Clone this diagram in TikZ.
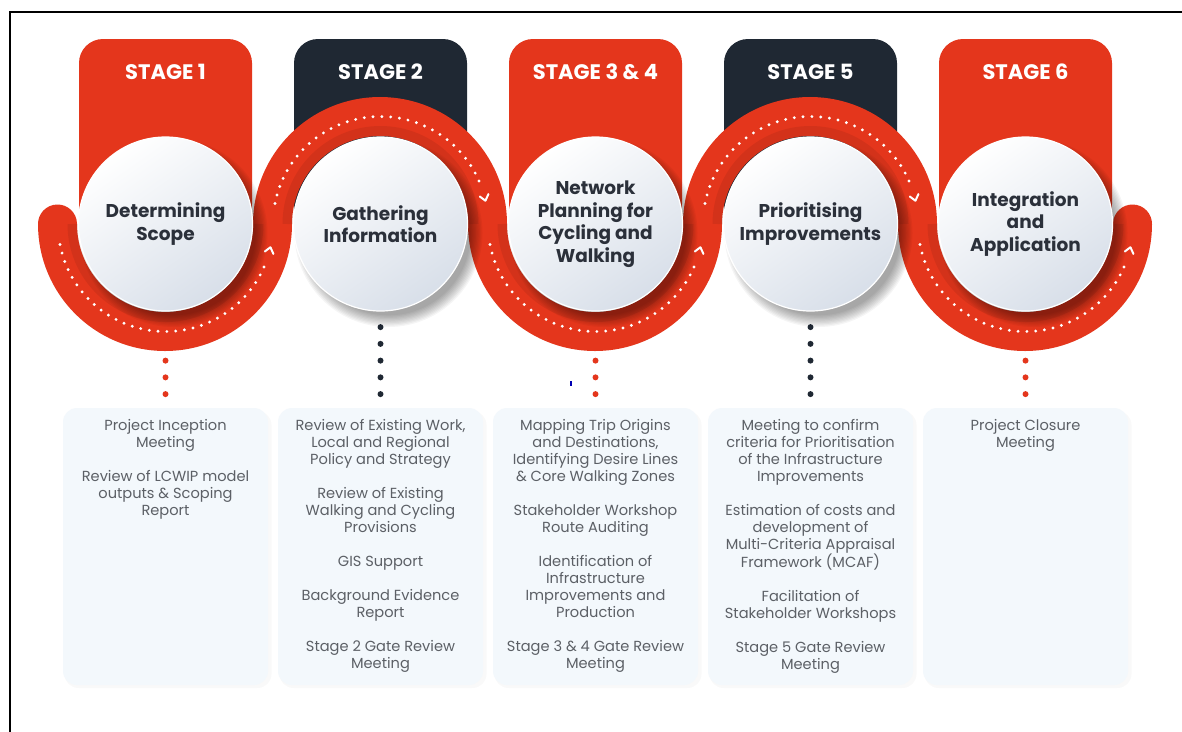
\documentclass[tikz,border=0pt]{standalone}
\usepackage{fontspec}
\setmainfont{Poppins}
\definecolor{stagered}{RGB}{228,54,28}
\definecolor{stagedark}{RGB}{31,40,51}
\definecolor{titleink}{RGB}{43,48,58}
\definecolor{bodyink}{RGB}{92,96,102}
\definecolor{boxfill}{RGB}{243,248,252}
\definecolor{discedge}{RGB}{216,223,233}
\pgfdeclarelayer{paper}
\pgfdeclarelayer{tablayer}
\pgfdeclarelayer{linklayer}
\pgfdeclarelayer{ribbonlayer}
\pgfsetlayers{paper,tablayer,linklayer,ribbonlayer,main}
\tikzset{
  tab/.style={rounded corners=24pt},
  band/.style={line width=39pt, stagered, line cap=round},
  trail/.style={white, line width=3.2pt, line cap=round, dash pattern=on 0pt off 8.8pt},
  chev/.style={white, line width=2pt, line cap=round, line join=round},
  stagelabel/.style={text=white, inner sep=0pt, font=\fontsize{21}{24}\selectfont\bfseries},
  disc/.style={circle, minimum size=174pt, inner sep=0pt, draw=white, line width=1.2pt,
    top color=white, bottom color=discedge, shading angle=35, align=center,
    text=titleink, font=\fontsize{18.5}{22.5}\selectfont\bfseries},
  infobox/.style={rounded corners=14pt, fill=boxfill, minimum width=205pt,
    minimum height=277pt, inner sep=0pt},
  boxtext/.style={align=center, text=bodyink, inner sep=0pt, anchor=north,
    font=\fontsize{14.6}{17}\selectfont},
  linkdots/.style={#1, line width=6pt, line cap=round,
    dash pattern=on 0pt off 16.75pt, dash phase=1.25pt},
}
\begin{document}
\begin{tikzpicture}[x=1pt,y=-1pt]
\useasboundingbox (0,0) rectangle (1182,731);
\begin{pgfonlayer}{paper}
  \fill[white] (0,0) rectangle (1182,731);
\end{pgfonlayer}
% outer frame
\draw[line width=1.8pt] (10,760) -- (10,12) -- (1200,12);

% stage tabs
\begin{pgfonlayer}{tablayer}
  \fill[stagered,tab] (79,228) rectangle (252,39);
  \fill[stagedark,tab] (294,228) rectangle (467,39);
  \fill[stagered,tab] (509,228) rectangle (682,39);
  \fill[stagedark,tab] (724,228) rectangle (897,39);
  \fill[stagered,tab] (939,228) rectangle (1112,39);
  \node[stagelabel] (s1) at (165.5,72) {STAGE 1};
  \node[stagelabel] (s2) at (380.5,72) {STAGE 2};
  \node[stagelabel] (s3) at (595.5,72) {STAGE 3 \& 4};
  \node[stagelabel] (s5) at (810.5,72) {STAGE 5};
  \node[stagelabel] (s6) at (1025.5,72) {STAGE 6};
\end{pgfonlayer}

% ribbon winding round the discs
\begin{pgfonlayer}{ribbonlayer}
  \draw[band] (57.5,224) arc[start angle=180,end angle=0,radius=107.5]
    arc[start angle=180,end angle=360,radius=107.5]
    arc[start angle=180,end angle=0,radius=107.5]
    arc[start angle=180,end angle=360,radius=107.5]
    arc[start angle=180,end angle=0,radius=107.5];
  % faint shading along the inner rim of each turn
  \foreach \cx in {165.5,595.5,1025.5}{
    \draw[black,opacity=0.07,line width=10pt] (\cx,224) ++(180:93)
      arc[start angle=180,end angle=0,radius=93];
  }
  \foreach \cx in {380.5,810.5}{
    \draw[black,opacity=0.07,line width=10pt] (\cx,224) ++(180:93)
      arc[start angle=180,end angle=360,radius=93];
  }
  % dotted trails and chevrons, lower arcs
  \foreach \cx in {165.5,595.5,1025.5}{
    \begin{scope}[shift={(\cx,224)}]
      \draw[trail] (169:107.5) arc[start angle=169,end angle=21,radius=107.5];
      \draw[chev] (15.5:103) -- (12.5:107.5) -- (15.5:112);
    \end{scope}
  }
  % dotted trails and chevrons, upper arcs
  \foreach \cx in {380.5,810.5}{
    \begin{scope}[shift={(\cx,224)}]
      \draw[trail] (191:107.5) arc[start angle=191,end angle=339,radius=107.5];
      \draw[chev] (344.5:103) -- (347.5:107.5) -- (344.5:112);
    \end{scope}
  }
\end{pgfonlayer}

% soft shadows under the discs
\foreach \cx in {165.5,380.5,595.5,810.5,1025.5}{
  \foreach \k in {0,...,9}{
    \fill[black,opacity=0.04] (\cx+8,233) circle ({94-1.3*\k});
  }
}

% discs
\node[disc] (d1) at (165.5,224) {Determining\\Scope};
\node[disc] (d2) at (380.5,224) {Gathering\\Information};
\node[disc] (d3) at (595.5,224) {Network\\Planning for\\Cycling and\\Walking};
\node[disc] (d5) at (810.5,224) {Prioritising\\Improvements};
\node[disc] (d6) at (1025.5,224) {Integration\\and\\Application};

% detail boxes
\foreach \cx/\nm in {165.5/b1,380.5/b2,595.5/b3,810.5/b5,1025.5/b6}{
  \fill[black,opacity=0.025,rounded corners=14pt] (\cx-101,411) rectangle (\cx+106,688);
  \node[infobox] (\nm) at (\cx,546.5) {};
}
\node[boxtext] (t1) at (165.5,419) {Project Inception\\Meeting\\[17pt]Review of LCWIP model\\outputs \& Scoping\\Report};
\node[boxtext] (t2) at (380.5,419) {Review of Existing Work,\\Local and Regional\\Policy and Strategy\\[17pt]Review of Existing\\Walking and Cycling\\Provisions\\[17pt]GIS Support\\[17pt]Background Evidence\\Report\\[17pt]Stage 2 Gate Review\\Meeting};
\node[boxtext] (t3) at (595.5,419) {Mapping Trip Origins\\and Destinations,\\Identifying Desire Lines\\\& Core Walking Zones\\[17pt]Stakeholder Workshop\\Route Auditing\\[17pt]Identification of\\Infrastructure\\Improvements and\\Production\\[17pt]Stage 3 \& 4 Gate Review\\Meeting};
\node[boxtext] (t5) at (810.5,419) {Meeting to confirm\\criteria for Prioritisation\\of the Infrastructure\\Improvements\\[17pt]Estimation of costs and\\development of\\Multi-Criteria Appraisal\\Framework (MCAF)\\[17pt]Facilitation of\\Stakeholder Workshops\\[17pt]Stage 5 Gate Review\\Meeting};
\node[boxtext] (t6) at (1025.5,419) {Project Closure\\Meeting};

% dotted links from discs to boxes
\begin{pgfonlayer}{linklayer}
  \draw[linkdots=stagered] (d1) -- (b1);
  \draw[linkdots=stagedark] (d2) -- (b2);
  \draw[linkdots=stagered] (d3) -- (b3);
  \draw[linkdots=stagedark] (d5) -- (b5);
  \draw[linkdots=stagered] (d6) -- (b6);
\end{pgfonlayer}
\fill[blue!70!black] (570,381) rectangle (572,386);
\end{tikzpicture}
\end{document}
